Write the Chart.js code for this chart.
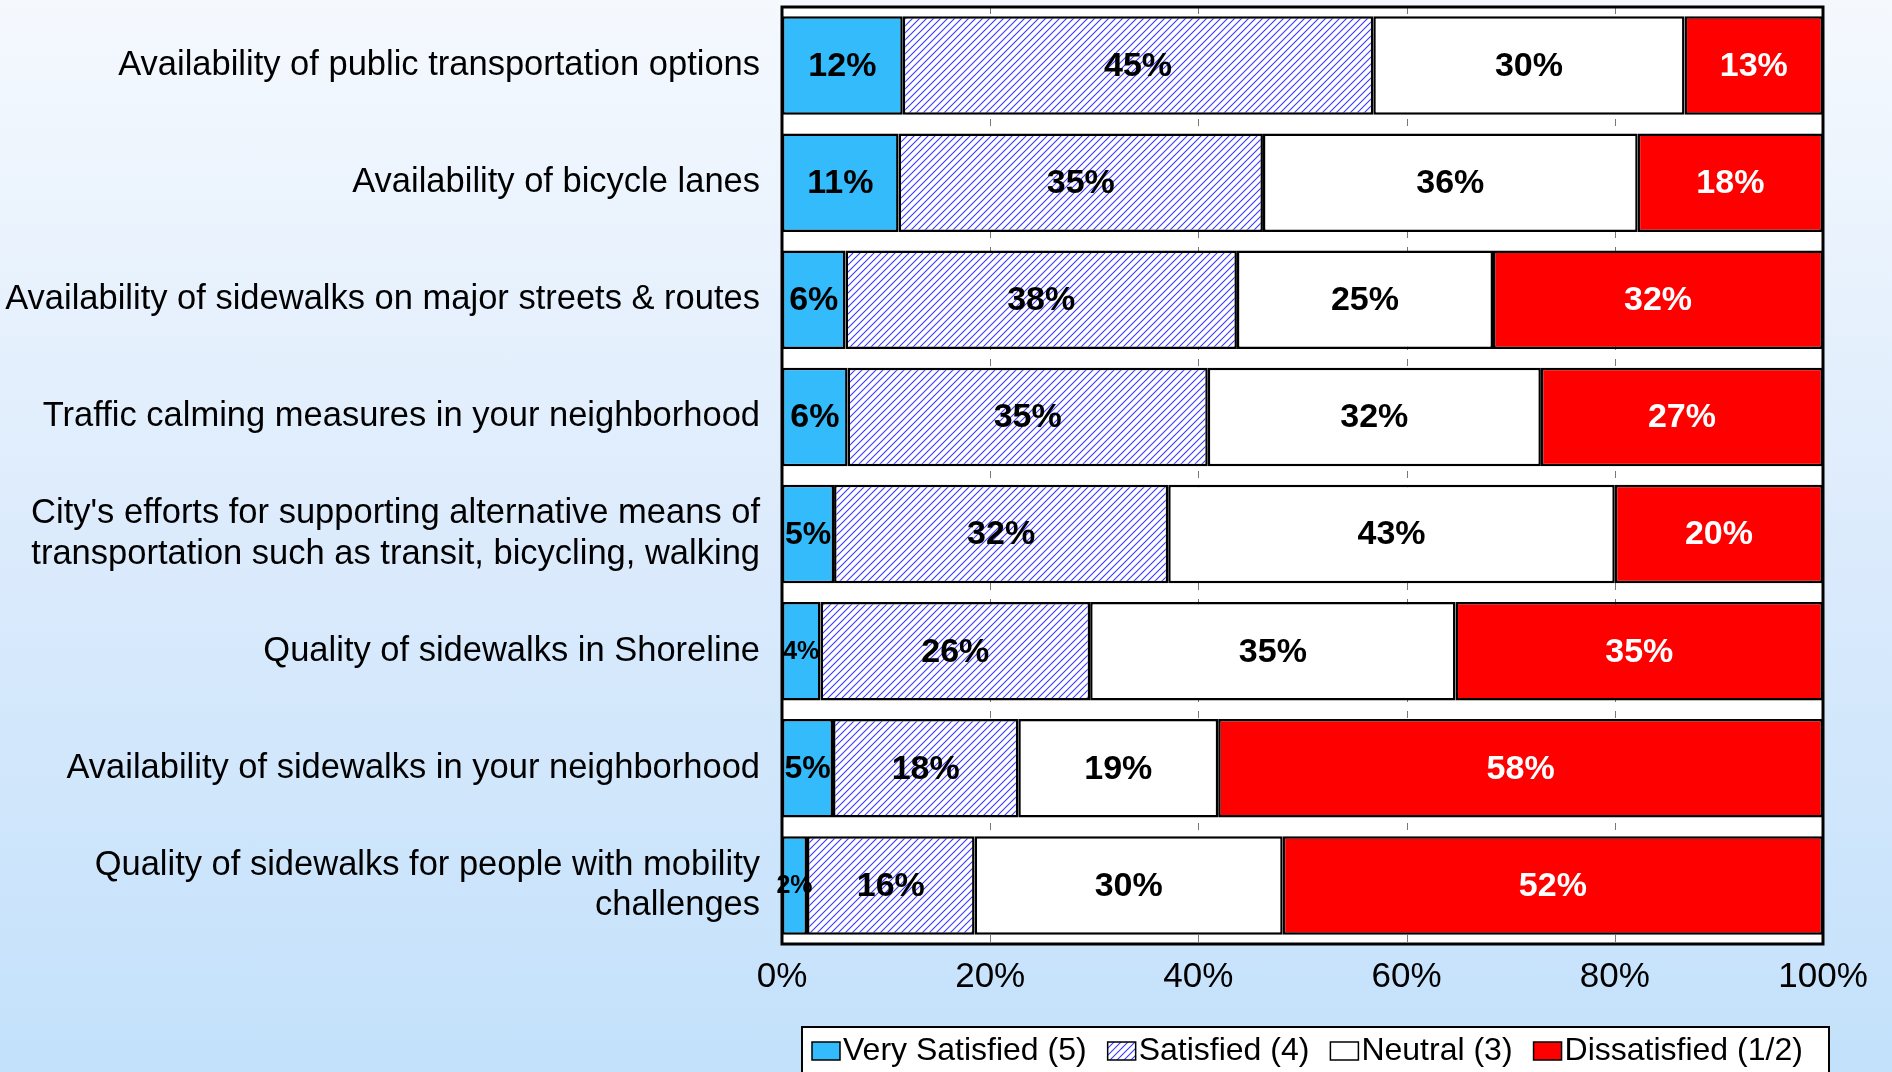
<!DOCTYPE html>
<html lang="en">
<head>
    <meta charset="UTF-8">
    <title>Satisfaction with transportation</title>
    <script src="https://cdn.jsdelivr.net/npm/chart.js"></script>
    <style>
        html, body {
            margin: 0;
            padding: 0;
        }
        body {
            width: 1892px;
            height: 1072px;
            overflow: hidden;
            background: linear-gradient(180deg, #f5f9fe 0%, #dcebfc 50%, #c3e1fb 100%);
        }
        canvas { display: block; }
    </style>
</head>
<body>
    <canvas id="chart" width="1892" height="1072"></canvas>

    <script>
        // Datos
        const categories = [
            'Availability of public transportation options',
            'Availability of bicycle lanes',
            'Availability of sidewalks on major streets & routes',
            'Traffic calming measures in your neighborhood',
            ["City's efforts for supporting alternative means of", 'transportation such as transit, bicycling, walking'],
            'Quality of sidewalks in Shoreline',
            'Availability of sidewalks in your neighborhood',
            ['Quality of sidewalks for people with mobility', 'challenges']
        ];
        const verySatisfied = [11.6, 11.2, 6.1, 6.3, 5.0, 3.7, 4.9, 2.4];
        const satisfied     = [45.2, 35.0, 37.6, 34.6, 32.1, 25.9, 17.8, 16.1];
        const neutral       = [29.9, 36.0, 24.6, 32.0, 42.9, 35.1, 19.2, 29.6];
        const dissatisfied  = [13.3, 17.8, 31.7, 27.1, 20.0, 35.3, 58.1, 51.9];
        const seriesNames = ['Very Satisfied (5)', 'Satisfied (4)', 'Neutral (3)', 'Dissatisfied (1/2)'];
        const xTicks = [0, 20, 40, 60, 80, 100];

        const FONT = "'Liberation Sans', Arial, sans-serif";
        Chart.defaults.font.family = FONT;
        Chart.defaults.color = '#000';

        // trama diagonal azul para "Satisfied"
        function hatch() {
            const c = document.createElement('canvas');
            c.width = 7; c.height = 7;
            const g = c.getContext('2d');
            g.fillStyle = '#fff';
            g.fillRect(0, 0, 7, 7);
            g.strokeStyle = '#3a3aff';
            g.lineWidth = 1.1;
            g.beginPath();
            g.moveTo(-1, 8); g.lineTo(8, -1);
            g.moveTo(-1, 1); g.lineTo(1, -1);
            g.moveTo(6, 8); g.lineTo(8, 6);
            g.stroke();
            return g.createPattern(c, 'repeat');
        }
        const hatchFill = hatch();
        const fills = ['#33bbfc', hatchFill, '#ffffff', '#ff0000'];

        const plotFrame = {
            id: 'plotFrame',
            beforeDatasetsDraw(chart) {
                const { ctx, chartArea: a } = chart;
                ctx.save();
                ctx.fillStyle = '#fff';
                ctx.fillRect(a.left, a.top, a.right - a.left, a.bottom - a.top);
                // lineas de cuadricula punteadas
                ctx.strokeStyle = '#777';
                ctx.lineWidth = 1;
                ctx.setLineDash([7, 9]);
                const xs = chart.scales.x;
                xTicks.slice(1, -1).forEach(v => {
                    const px = Math.round(xs.getPixelForValue(v)) + 0.5;
                    ctx.beginPath();
                    ctx.moveTo(px, a.top);
                    ctx.lineTo(px, a.bottom);
                    ctx.stroke();
                });
                ctx.restore();
            },
            afterDatasetsDraw(chart) {
                const { ctx, chartArea: a } = chart;
                ctx.save();
                // etiquetas de valores
                ctx.textAlign = 'center';
                ctx.textBaseline = 'middle';
                chart.data.datasets.forEach((ds, di) => {
                    const meta = chart.getDatasetMeta(di);
                    meta.data.forEach((el, i) => {
                        const v = Math.round(ds.data[i]);
                        const size = v >= 6 ? 34 : (v === 5 ? 32 : 25);
                        ctx.font = 'bold ' + size + 'px ' + FONT;
                        ctx.fillStyle = di === 3 ? '#fff' : '#000';
                        ctx.fillText(v + '%', (el.x + el.base) / 2, el.y + 1);
                    });
                });
                ctx.strokeStyle = '#000';
                ctx.lineWidth = 3;
                ctx.strokeRect(a.left, a.top, a.right - a.left, a.bottom - a.top);
                ctx.restore();
            },
            afterDraw(chart) {
                // leyenda con marco
                const { ctx } = chart;
                ctx.save();
                ctx.fillStyle = '#fff';
                ctx.fillRect(802, 1027, 1027, 60);
                ctx.strokeStyle = '#000';
                ctx.lineWidth = 2;
                ctx.strokeRect(802, 1027, 1027, 60);
                ctx.font = '32px ' + FONT;
                ctx.textBaseline = 'middle';
                ctx.textAlign = 'left';
                let x = 812;
                const y = 1051;
                seriesNames.forEach((name, i) => {
                    ctx.fillStyle = fills[i];
                    ctx.fillRect(x, y - 9, 28, 18);
                    ctx.lineWidth = 1.5;
                    ctx.strokeStyle = '#000';
                    ctx.strokeRect(x, y - 9, 28, 18);
                    ctx.fillStyle = '#000';
                    ctx.fillText(name, x + 31, y);
                    x += 31 + ctx.measureText(name).width + 21;
                });
                ctx.restore();
            }
        };

        const datasets = [verySatisfied, satisfied, neutral, dissatisfied].map((d, i) => ({
            label: seriesNames[i],
            data: d,
            backgroundColor: fills[i],
            borderColor: '#000',
            borderWidth: 2.5,
            borderSkipped: false,
            barPercentage: 0.84,
            categoryPercentage: 1
        }));

        new Chart(document.getElementById('chart').getContext('2d'), {
            type: 'bar',
            data: { labels: categories, datasets: datasets },
            options: {
                indexAxis: 'y',
                responsive: false,
                animation: false,
                layout: { padding: { top: 7, right: 69, bottom: 0, left: 0 } },
                plugins: {
                    legend: { display: false },
                    tooltip: { enabled: false }
                },
                scales: {
                    x: {
                        stacked: true,
                        min: 0,
                        max: 100,
                        afterFit(scale) {
                            scale.height = 128;
                            scale.paddingLeft = 0;
                            scale.paddingRight = 0;
                        },
                        afterBuildTicks(scale) { scale.ticks = xTicks.map(v => ({ value: v })); },
                        grid: { display: false },
                        border: { display: false },
                        ticks: {
                            font: { size: 35 },
                            padding: 4,
                            maxRotation: 0,
                            callback: v => v + '%'
                        }
                    },
                    y: {
                        stacked: true,
                        afterFit(scale) {
                            scale.width = 782;
                            scale.paddingTop = 0;
                            scale.paddingBottom = 0;
                        },
                        grid: { display: false },
                        border: { display: false },
                        ticks: {
                            font: { size: 34.5, lineHeight: 1.18 },
                            padding: 14,
                            color: '#000'
                        }
                    }
                }
            },
            plugins: [plotFrame]
        });
    </script>
</body>
</html>
